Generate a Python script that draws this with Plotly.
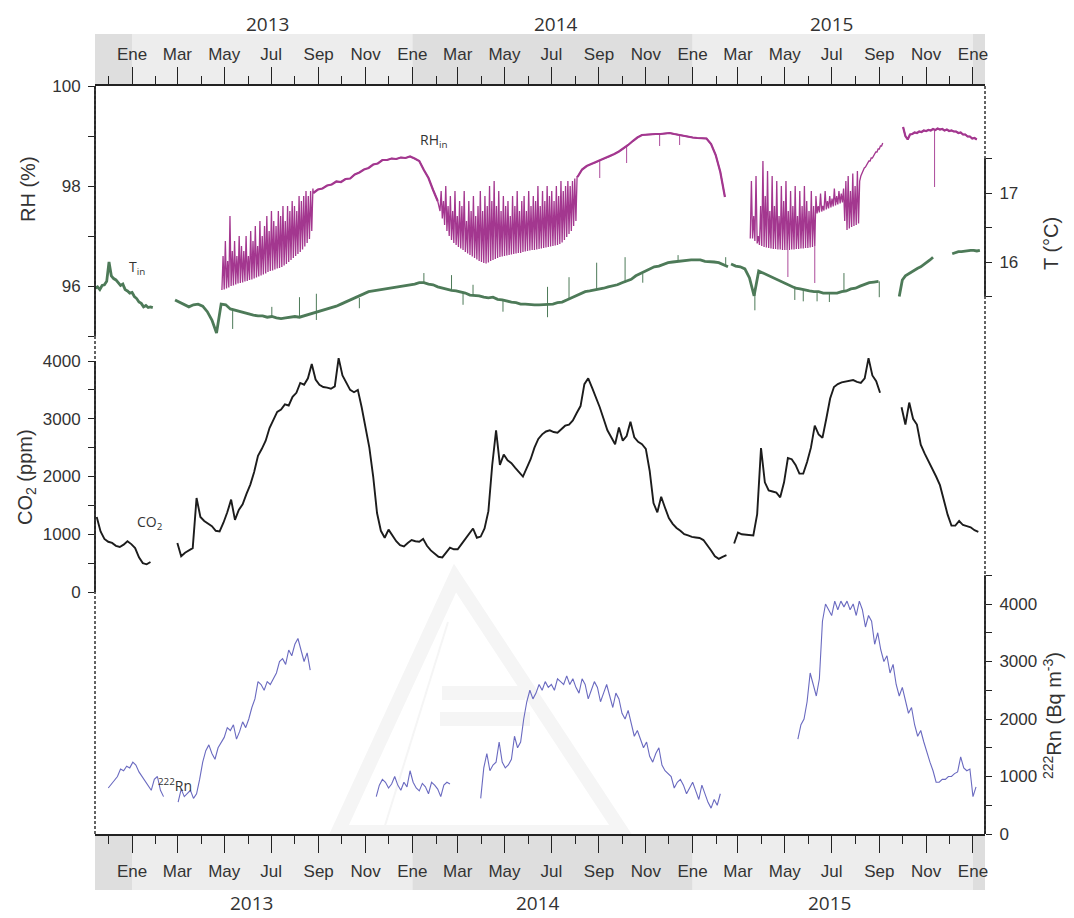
import pandas as pd
import plotly.graph_objects as go

# ---------------------------------------------------------------- time axis
X_RANGE = ["2012-11-13 18:00", "2016-01-16 16:00"]
YEARS = [2013, 2014, 2015]
MONTH_LABELS = ["Ene", "Mar", "May", "Jul", "Sep", "Nov"]
major_ticks = [f"{y}-{m:02d}-01" for y in YEARS for m in (1, 3, 5, 7, 9, 11)] + ["2016-01-01"]
major_text = MONTH_LABELS * len(YEARS) + ["Ene"]
minor_ticks = ["2012-12-01"] + [f"{y}-{m:02d}-01" for y in YEARS for m in (2, 4, 6, 8, 10, 12)]

# ---------------------------------------------------------------- RH (%)
# spiky stretches: (start, step in days, daily lows, daily highs)
rh_a_start = "2013-04-28"
rh_a_low = [95.92, 95.93, 95.95, 95.97, 96.00, 96.01, 96.03, 96.05, 96.06, 96.07,
            96.09, 96.10, 96.12, 96.13, 96.15, 96.17, 96.19, 96.21, 96.23, 96.25,
            96.28, 96.30, 96.31, 96.33, 96.35, 96.36, 96.38, 96.41, 96.44, 96.48,
            96.52, 96.56, 96.60, 96.64, 96.68, 96.73, 96.79, 96.86, 96.94, 97.10]
rh_a_high = [96.6, 96.9, 96.5, 97.4, 96.7, 96.9, 96.6, 97.0, 96.8, 96.7,
             97.0, 96.6, 97.1, 96.9, 97.2, 96.8, 97.3, 97.0, 97.2, 97.4,
             97.1, 97.5, 97.3, 97.2, 97.5, 97.4, 97.6, 97.3, 97.6, 97.5,
             97.7, 97.6, 97.5, 97.8, 97.7, 97.8, 97.9, 97.8, 97.9, 97.95]
rh_a2_start = "2013-08-25"
rh_a2 = [97.86, 97.93, 97.95, 98.01, 98.03, 98.09, 98.08, 98.14, 98.15, 98.23,
         98.27, 98.33, 98.36, 98.43, 98.45, 98.52, 98.52, 98.55, 98.54, 98.57,
         98.56, 98.59, 98.55, 98.50, 98.32, 98.16, 97.92, 97.70]
rh_b_start = "2014-02-06"
rh_b_low = [97.50, 97.35, 97.22, 97.10, 97.00, 96.92, 96.86, 96.82, 96.78, 96.75,
            96.72, 96.68, 96.65, 96.62, 96.59, 96.56, 96.53, 96.50, 96.48, 96.46,
            96.45, 96.47, 96.50, 96.52, 96.54, 96.56, 96.58, 96.59, 96.60, 96.61,
            96.62, 96.63, 96.64, 96.65, 96.66, 96.66, 96.68, 96.69, 96.70, 96.71,
            96.72, 96.72, 96.73, 96.74, 96.75, 96.76, 96.77, 96.78, 96.79, 96.80,
            96.81, 96.82, 96.84, 96.87, 96.92, 96.98, 97.04, 97.10, 97.20, 97.30]
rh_b_high = [97.9, 97.7, 98.0, 97.6, 97.8, 97.5, 97.9, 97.4, 97.7, 97.6,
             97.9, 97.3, 97.7, 97.5, 97.8, 97.4, 97.6, 97.9, 97.5, 97.8,
             97.6, 98.0, 97.7, 98.1, 97.6, 97.9, 97.5, 97.8, 97.6, 97.7,
             97.4, 97.8, 97.6, 97.9, 97.5, 97.7, 97.8, 97.5, 97.9, 97.6,
             97.8, 97.7, 98.0, 97.6, 97.9, 97.7, 98.0, 97.8, 97.9, 97.7,
             98.0, 97.8, 98.1, 97.9, 98.0, 98.1, 98.0, 98.1, 98.15, 98.2]
rh_b2_start = "2014-08-04"
rh_b2 = [98.18, 98.33, 98.40, 98.44, 98.47, 98.52, 98.55, 98.59, 98.64, 98.69,
         98.75, 98.82, 98.90, 98.97, 99.02, 99.03, 99.03, 99.04, 99.04, 99.05,
         99.06, 99.04, 99.02, 99.00, 98.98, 98.97, 98.96, 98.96, 98.95, 98.84,
         98.62, 98.28, 97.78]
rh_c_start = "2015-03-17"
rh_c_low = [96.95, 96.95, 96.90, 96.85, 96.82, 96.80, 96.78, 96.77, 96.76, 96.75,
            96.74, 96.74, 96.73, 96.73, 96.72, 96.72, 96.72, 96.72, 96.73, 96.73,
            96.74, 96.74, 96.75, 96.75, 96.76, 96.76, 96.77, 96.78, 96.80, 97.45,
            97.47, 97.49, 97.51, 97.53, 97.55, 97.57, 97.59, 97.61, 97.63, 97.65,
            97.67, 97.30, 97.12, 97.15, 97.18, 97.20, 97.22, 97.25, 98.20, 98.30,
            98.38, 98.45, 98.50, 98.56, 98.62, 98.68, 98.74, 98.80]
rh_c_high = [98.10, 97.40, 98.20, 97.00, 97.60, 98.50, 97.80, 98.30, 97.50, 98.20,
             97.60, 98.10, 97.40, 98.00, 97.70, 98.10, 97.50, 97.90, 97.60, 98.00,
             97.40, 97.90, 97.60, 98.00, 97.70, 97.50, 97.90, 97.60, 97.80, 97.60,
             97.85, 97.60, 97.90, 97.70, 97.80, 97.75, 97.95, 97.80, 97.90, 97.85,
             97.95, 98.10, 98.20, 97.90, 98.25, 98.00, 98.30, 98.10, 98.26, 98.36,
             98.42, 98.50, 98.56, 98.60, 98.68, 98.74, 98.80, 98.86]
rh_d_start = "2015-10-02"
rh_d = [99.18, 99.00, 98.93, 99.03, 99.04, 99.07, 99.06, 99.09, 99.08, 99.11,
        99.10, 99.12, 99.11, 99.14, 99.12, 99.15, 99.13, 99.14, 99.11, 99.13,
        99.10, 99.11, 99.09, 99.09, 99.06, 99.07, 99.03, 99.03, 98.99, 98.99,
        98.95, 98.96, 98.93]
rh_dips = [("2014-09-02", 98.52, 98.16), ("2014-10-07", 98.82, 98.46),
           ("2014-11-19", 99.04, 98.80), ("2014-12-15", 99.02, 98.82),
           ("2015-05-05", 96.72, 96.18), ("2015-06-09", 96.80, 96.06),
           ("2015-11-12", 99.11, 97.98)]

# ---------------------------------------------------------------- T (°C)
t_1_start = "2012-11-14"
t_1 = [15.62, 15.64, 15.60, 15.66, 15.67, 15.72, 16.00, 15.80, 15.76, 15.74,
       15.70, 15.66, 15.68, 15.60, 15.58, 15.55, 15.56, 15.50, 15.47, 15.42,
       15.40, 15.35, 15.37, 15.34, 15.35, 15.34]
t_2_start = "2013-02-26"
t_2 = [15.45, 15.42, 15.38, 15.35, 15.38, 15.39, 15.36, 15.28, 15.16, 14.97,
       15.39, 15.38, 15.32, 15.30, 15.28, 15.26, 15.25, 15.23, 15.22, 15.22,
       15.20, 15.21, 15.19, 15.18, 15.19, 15.20, 15.21, 15.20, 15.22, 15.23,
       15.26, 15.28, 15.29, 15.32, 15.33, 15.36, 15.39, 15.42, 15.45, 15.48,
       15.51, 15.54, 15.57, 15.58, 15.59, 15.61, 15.62, 15.62, 15.64, 15.64,
       15.65, 15.67, 15.68, 15.70, 15.70, 15.68, 15.67, 15.64, 15.62, 15.61,
       15.59, 15.58, 15.57, 15.55, 15.52, 15.52, 15.51, 15.49, 15.48, 15.49,
       15.46, 15.45, 15.43, 15.42, 15.41, 15.39, 15.39, 15.38, 15.38, 15.38,
       15.38, 15.38, 15.39, 15.41, 15.42, 15.45, 15.48, 15.51, 15.54, 15.57,
       15.58, 15.59, 15.61, 15.62, 15.64, 15.65, 15.67, 15.70, 15.72, 15.75,
       15.80, 15.83, 15.87, 15.90, 15.93, 15.94, 15.97, 15.99, 16.00, 16.01,
       16.01, 16.03, 16.03, 16.03, 16.03, 16.01, 16.01, 16.00, 15.99, 15.96,
       15.93]
t_3_start = "2015-02-20"
t_3 = [15.97, 15.94, 15.93, 15.90, 15.77, 15.51, 15.87, 15.84, 15.81, 15.78,
       15.75, 15.71, 15.68, 15.65, 15.62, 15.61, 15.59, 15.58, 15.57, 15.57,
       15.55, 15.55, 15.55, 15.55, 15.57, 15.58, 15.61, 15.62, 15.65, 15.68,
       15.70, 15.71, 15.72]
t_4_start = "2015-09-27"
t_4 = [15.50, 15.74, 15.80, 15.83, 15.86, 15.88, 15.91, 15.93, 15.96, 15.99,
       16.03, 16.07]
t_5_start = "2015-12-05"
t_5 = [16.12, 16.14, 16.15, 16.15, 16.16, 16.16, 16.17, 16.17, 16.16, 16.17]
t_spikes = [("2013-05-12", 15.30, 15.03), ("2013-07-02", 15.20, 15.35),
            ("2013-08-07", 15.20, 15.49), ("2013-08-29", 15.16, 15.54),
            ("2013-10-24", 15.48, 15.33), ("2014-01-16", 15.70, 15.84),
            ("2014-02-21", 15.59, 15.81), ("2014-03-08", 15.57, 15.38),
            ("2014-03-21", 15.53, 15.67), ("2014-04-29", 15.45, 15.28),
            ("2014-06-26", 15.20, 15.64), ("2014-07-24", 15.45, 15.78),
            ("2014-08-29", 15.61, 15.99), ("2014-10-05", 15.70, 16.07),
            ("2014-10-28", 15.83, 15.70), ("2014-12-13", 16.01, 16.10),
            ("2015-02-13", 15.95, 16.07), ("2015-03-23", 15.55, 15.30),
            ("2015-05-14", 15.65, 15.45), ("2015-05-25", 15.61, 15.43),
            ("2015-06-12", 15.57, 15.43), ("2015-06-28", 15.55, 15.42),
            ("2015-07-17", 15.57, 15.84), ("2015-09-01", 15.72, 15.49)]

# ---------------------------------------------------------------- CO2 (ppm), 5-day steps
co2_1_start = "2012-11-16"
co2_1 = [1300, 1050, 920, 870, 850, 800, 780, 820, 880, 830, 760, 600, 500, 480, 520]
co2_2_start = "2013-03-01"
co2_2 = [849, 620, 680, 720, 760, 1628, 1300, 1230, 1180, 1140,
         1060, 1050, 1200, 1380, 1600, 1250, 1420, 1520, 1700, 1860,
         2080, 2360, 2480, 2620, 2840, 2980, 3118, 3160, 3250, 3230,
         3380, 3450, 3620, 3590, 3700, 3950, 3680, 3590, 3550, 3540,
         3520, 3560, 4050, 3750, 3620, 3500, 3460, 3500, 3200, 2870,
         2500, 2000, 1368, 1060, 940, 1080, 980, 880, 810, 790,
         850, 900, 880, 870, 920, 800, 720, 660, 610, 600,
         690, 770, 740, 740, 830, 920, 1000, 1100, 940, 960,
         1100, 1400, 2200, 2800, 2200, 2380, 2280, 2230, 2150, 2070,
         2000, 2150, 2300, 2500, 2650, 2730, 2780, 2800, 2770, 2760,
         2820, 2880, 2900, 2970, 3100, 3220, 3600, 3700, 3540, 3380,
         3200, 3000, 2800, 2680, 2560, 2850, 2620, 2700, 2950, 2680,
         2600, 2560, 2480, 2100, 1540, 1380, 1650, 1460, 1280, 1180,
         1110, 1060, 1000, 980, 955, 945, 935, 900, 820, 720,
         620, 575, 610, 640]
co2_3_start = "2015-02-24"
co2_3 = [840, 1030, 1000, 990, 985, 980, 1350, 2494, 1900, 1760,
         1740, 1720, 1640, 1900, 2320, 2300, 2200, 2050, 2050, 2250,
         2500, 2880, 2730, 2670, 3000, 3350, 3550, 3600, 3630, 3640,
         3660, 3670, 3640, 3620, 3700, 4050, 3750, 3650, 3450]
co2_4_start = "2015-09-30"
co2_4 = [3200, 2900, 3280, 3000, 2900, 2550, 2400, 2270, 2150, 2000,
         1850, 1600, 1340, 1150, 1150, 1230, 1160, 1140, 1120, 1070, 1040]

# ---------------------------------------------------------------- 222Rn (Bq m-3), 4-day steps
rn_1_start = "2012-12-01"
rn_1 = [800, 870, 950, 1000, 1130, 1100, 1180, 1150, 1250, 1200,
        1080, 1000, 900, 830, 760, 950, 1000, 760, 650]
rn_2_start = "2013-03-02"
rn_2 = [556, 780, 650, 700, 760, 620, 700, 950, 1250, 1450,
        1550, 1400, 1300, 1500, 1600, 1680, 1850, 1800, 1900, 1650,
        1780, 1950, 1850, 2000, 2200, 2350, 2650, 2600, 2500, 2650,
        2600, 2700, 2800, 3000, 3050, 2950, 3200, 3100, 3300, 3400,
        3200, 3000, 3150, 2850]
rn_3_start = "2013-11-15"
rn_3 = [650, 850, 950, 900, 800, 870, 1000, 850, 760, 900,
        820, 1100, 900, 800, 750, 880, 820, 700, 900, 850,
        780, 650, 850, 900, 870]
rn_4_start = "2014-03-31"
rn_4 = [620, 1150, 1400, 1100, 1200, 1250, 1600, 1250, 1150, 1200,
        1300, 1700, 1500, 1600, 2000, 2300, 2500, 2350, 2450, 2600,
        2500, 2650, 2550, 2600, 2500, 2700, 2650, 2600, 2750, 2600,
        2700, 2550, 2450, 2700, 2600, 2350, 2500, 2650, 2550, 2300,
        2450, 2600, 2400, 2200, 2450, 2350, 2100, 2000, 2150, 1900,
        1700, 1800, 1650, 1500, 1600, 1350, 1250, 1400, 1500, 1200,
        1100, 1050, 1000, 800, 900, 950, 850, 700, 800, 900,
        750, 600, 850, 700, 550, 450, 600, 500, 700]
rn_5_start = "2015-05-18"
rn_5 = [1650, 1900, 2000, 2300, 2800, 2600, 2400, 2700, 3700, 4000,
        3900, 3800, 4050, 3900, 4050, 3950, 4050, 3900, 4000, 3800,
        4050, 3900, 3600, 3800, 3700, 3300, 3500, 3200, 3000, 3100,
        2800, 2950, 2600, 2400, 2550, 2300, 2100, 2200, 1900, 1700,
        1800, 1600, 1400, 1250, 1100, 900, 900, 950, 950, 1000,
        1000, 1050, 1080, 1340, 1150, 1100, 1130, 650, 820]

# ---------------------------------------------------------------- styling
INK = "#222222"
TXT = "#333333"
RH_COLOR = "#a3378f"
T_COLOR = "#4d7a58"
CO2_COLOR = "#1c1c1c"
RN_COLOR = "#6a6ac0"
LOGO_GREY = "#f5f5f5"
TICK_FONT = dict(family="Liberation Sans, Arial, sans-serif", size=17, color=TXT)
LABEL_FONT = dict(family="Open Sans, sans-serif", size=14, color=TXT)


def stamp(t):
    return t.strftime("%Y-%m-%d %H:%M")


def line_seg(start, step, vals):
    t0 = pd.Timestamp(start)
    return [stamp(t0 + pd.Timedelta(days=step * i)) for i in range(len(vals))], list(vals)


def zigzag_seg(start, step, lows, highs):
    t0 = pd.Timestamp(start)
    xs, ys = [], []
    for i, (lo, hi) in enumerate(zip(lows, highs)):
        t = t0 + pd.Timedelta(days=step * i)
        xs += [stamp(t), stamp(t + pd.Timedelta(hours=12 * step))]
        ys += [lo, hi]
    return xs, ys


def chain(*segs):
    xs, ys = [], []
    for sx, sy in segs:
        xs += sx
        ys += sy
    return xs, ys


def with_gaps(*pieces):
    xs, ys = [], []
    for k, (px, py) in enumerate(pieces):
        if k:
            xs.append(None)
            ys.append(None)
        xs += px
        ys += py
    return xs, ys


def spikes(events):
    xs, ys = [], []
    for d, base, tip in events:
        xs += [d, d, None]
        ys += [base, tip, None]
    return xs, ys


fig = go.Figure()

# RH
rh_x, rh_y = with_gaps(
    chain(zigzag_seg(rh_a_start, 3, rh_a_low, rh_a_high),
          line_seg(rh_a2_start, 6, rh_a2),
          zigzag_seg(rh_b_start, 3, rh_b_low, rh_b_high),
          line_seg(rh_b2_start, 6, rh_b2)),
    zigzag_seg(rh_c_start, 3, rh_c_low, rh_c_high),
    line_seg(rh_d_start, 3, rh_d),
)
fig.add_trace(go.Scatter(x=rh_x, y=rh_y, mode="lines", yaxis="y",
                         line=dict(color=RH_COLOR, width=1.3)))
rs_x, rs_y = with_gaps(line_seg(rh_a2_start, 6, rh_a2), line_seg(rh_b2_start, 6, rh_b2),
                       line_seg(rh_d_start, 3, rh_d))
fig.add_trace(go.Scatter(x=rs_x, y=rs_y, mode="lines", yaxis="y",
                         line=dict(color=RH_COLOR, width=2.2)))
sx, sy = spikes(rh_dips)
fig.add_trace(go.Scatter(x=sx, y=sy, mode="lines", yaxis="y",
                         line=dict(color=RH_COLOR, width=0.9)))

# T
t_x, t_y = with_gaps(line_seg(t_1_start, 3, t_1), line_seg(t_2_start, 6, t_2),
                     line_seg(t_3_start, 6, t_3), line_seg(t_4_start, 4, t_4),
                     line_seg(t_5_start, 4, t_5))
fig.add_trace(go.Scatter(x=t_x, y=t_y, mode="lines", yaxis="y3",
                         line=dict(color=T_COLOR, width=2.8)))
sx, sy = spikes(t_spikes)
fig.add_trace(go.Scatter(x=sx, y=sy, mode="lines", yaxis="y3",
                         line=dict(color=T_COLOR, width=1.0)))

# CO2
c_x, c_y = with_gaps(line_seg(co2_1_start, 5, co2_1), line_seg(co2_2_start, 5, co2_2),
                     line_seg(co2_3_start, 5, co2_3), line_seg(co2_4_start, 5, co2_4))
fig.add_trace(go.Scatter(x=c_x, y=c_y, mode="lines", yaxis="y2",
                         line=dict(color=CO2_COLOR, width=1.9)))

# 222Rn
r_x, r_y = with_gaps(line_seg(rn_1_start, 4, rn_1), line_seg(rn_2_start, 4, rn_2),
                     line_seg(rn_3_start, 4, rn_3), line_seg(rn_4_start, 4, rn_4),
                     line_seg(rn_5_start, 4, rn_5))
fig.add_trace(go.Scatter(x=r_x, y=r_y, mode="lines", yaxis="y4",
                         line=dict(color=RN_COLOR, width=1.1)))

# carrier for the top time axis
fig.add_trace(go.Scatter(x=X_RANGE, y=[None, None], xaxis="x2", yaxis="y",
                         mode="lines", hoverinfo="skip"))

# ---------------------------------------------------------------- axes
time_axis = dict(
    type="date", range=X_RANGE, tickmode="array", tickvals=major_ticks, ticktext=major_text,
    ticks="outside", ticklen=17, tickwidth=1.4, tickcolor=INK, tickfont=TICK_FONT,
    minor=dict(tickmode="array", tickvals=minor_ticks, ticks="outside", ticklen=8,
               tickwidth=1.4, tickcolor=INK, showgrid=False),
    showline=True, linecolor=INK, linewidth=1.6, showgrid=False, zeroline=False,
    automargin=False, fixedrange=True,
)


def value_axis(rng, vals, minor_vals, side, **extra):
    d = dict(range=rng, tickmode="array", tickvals=vals, ticktext=[f"{v:g}" for v in vals],
             ticks="outside", ticklen=6, tickwidth=1.4, tickcolor=INK, tickfont=TICK_FONT,
             ticklabelstandoff=4, side=side, anchor="x",
             minor=dict(tickmode="array", tickvals=minor_vals, ticks="outside", ticklen=6,
                        tickwidth=1.4, tickcolor=INK, showgrid=False),
             showline=False, showgrid=False, zeroline=False, automargin=False,
             fixedrange=True)
    d.update(extra)
    return d


fig.update_layout(
    template="none",
    width=1074, height=918,
    margin=dict(l=95, r=89, t=86, b=84, pad=0),
    paper_bgcolor="white", plot_bgcolor="white",
    showlegend=False,
    xaxis=dict(time_axis, side="bottom", anchor="y", ticklabelstandoff=4),
    xaxis2=dict(time_axis, side="top", anchor="y", overlaying="x", ticklabelstandoff=0),
    yaxis=value_axis([85.04, 100], [96, 98, 100], [95, 97, 99], "left"),
    yaxis2=value_axis([-4190, 8762], [0, 1000, 2000, 3000, 4000],
                      [500, 1500, 2500, 3500], "left", overlaying="y"),
    yaxis3=value_axis([7.71, 18.551], [16, 17], [15.5, 16.5, 17.5], "right", overlaying="y"),
    yaxis4=value_axis([0, 13009], [0, 1000, 2000, 3000, 4000],
                      [500, 1500, 2500, 3500, 4500], "right", overlaying="y"),
)

# ---------------------------------------------------------------- shapes
shapes = []

# faint emblem printed behind the lower panel
shapes.append(dict(type="path", xref="paper", yref="paper", layer="below",
                   path="M 0.4045 0.3422 L 0.2730 0.0027 L 0.5921 0.0027 Z",
                   line=dict(color=LOGO_GREY, width=14), fillcolor="rgba(0,0,0,0)"))
shapes.append(dict(type="line", xref="paper", yref="paper", layer="below",
                   x0=0.3966, y0=0.2834, x1=0.3236, y1=0.0027,
                   line=dict(color=LOGO_GREY, width=2)))
for x0, x1, y0, y1 in ((0.3899, 0.4831, 0.1791, 0.1979), (0.3876, 0.4888, 0.1444, 0.1631)):
    shapes.append(dict(type="rect", xref="paper", yref="paper", layer="below",
                       x0=x0, x1=x1, y0=y0, y1=y1, fillcolor=LOGO_GREY, line=dict(width=0)))

# year bands behind month labels
band_edges = [X_RANGE[0], "2013-01-01", "2014-01-01", "2015-01-01", "2016-01-01", X_RANGE[1]]
band_fill = ["#dedede", "#ededed", "#dedede", "#ededed", "#dedede"]
for k in range(len(band_edges) - 1):
    for y0, y1 in ((1.0, 1.0695), (-0.0749, 0.0)):
        shapes.append(dict(type="rect", xref="x", yref="paper", x0=band_edges[k],
                           x1=band_edges[k + 1], y0=y0, y1=y1, layer="below",
                           fillcolor=band_fill[k], line=dict(width=0)))

# vertical axis lines: dashed frame, solid where a scale applies
dash = dict(color=INK, width=1.4, dash="3px,2px")
solid = dict(color=INK, width=1.8)
for xp in (0, 1):
    shapes.append(dict(type="line", xref="paper", yref="paper", x0=xp, x1=xp, y0=0, y1=1,
                       line=dash))
for xp, yref, lo, hi in ((0, "y", 95, 100), (0, "y2", 0, 4000),
                         (1, "y3", 15.5, 17.5), (1, "y4", 0, 4500)):
    shapes.append(dict(type="line", xref="paper", yref=yref, x0=xp, x1=xp, y0=lo, y1=hi,
                       line=solid))
fig.update_layout(shapes=shapes)

# ---------------------------------------------------------------- text
ann = []
year_font = dict(family="Open Sans, sans-serif", size=19, color=TXT)
for yr, xt, xb in zip(YEARS, (0.1933, 0.518, 0.828), (0.1764, 0.4978, 0.8258)):
    ann.append(dict(text=str(yr), x=xt, y=1.0829, xref="paper", yref="paper",
                    showarrow=False, font=year_font, xanchor="center", yanchor="middle"))
    ann.append(dict(text=str(yr), x=xb, y=-0.0922, xref="paper", yref="paper",
                    showarrow=False, font=year_font, xanchor="center", yanchor="middle"))

title_font = dict(family="Liberation Sans, Arial, sans-serif", size=20, color=TXT)
for text, x, y in (("RH (%)", -0.0753, 0.8623),
                   ("CO<sub>2</sub> (ppm)", -0.0764, 0.4773),
                   ("T (°C)", 1.0742, 0.7888),
                   ("<sup>222</sup>Rn (Bq m<sup>-3</sup>)", 1.0764, 0.1591)):
    ann.append(dict(text=text, x=x, y=y, xref="paper", yref="paper", textangle=-90,
                    showarrow=False, font=title_font, xanchor="center", yanchor="middle"))

for text, x, y in (("RH<sub>in</sub>", 0.3798, 0.9278),
                   ("T<sub>in</sub>", 0.0472, 0.7567),
                   ("CO<sub>2</sub>", 0.0618, 0.4171),
                   ("<sup>222</sup>Rn", 0.0899, 0.0655)):
    ann.append(dict(text=text, x=x, y=y, xref="paper", yref="paper", showarrow=False,
                    font=LABEL_FONT, xanchor="center", yanchor="middle"))
fig.update_layout(annotations=ann)

fig.write_html("out.html")
